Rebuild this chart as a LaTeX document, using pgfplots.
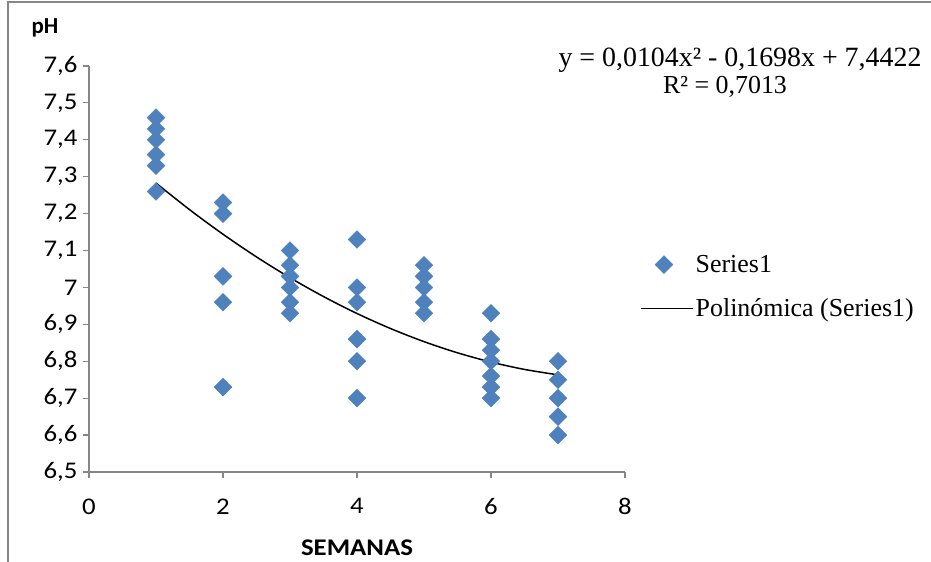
\documentclass[border=0pt]{standalone}
\usepackage{pgfplots}
\pgfplotsset{compat=1.18}
\usepackage{fontspec}
\setmainfont{Liberation Serif}
\newfontfamily\calibri{Carlito}
\newfontfamily\calibriw{Carlito}[FakeStretch=1.12]
\definecolor{xlblue}{HTML}{4F81BD}
\definecolor{axgray}{HTML}{868686}
\pgfplotsset{
  mylegmark/.style={legend image code/.code={\draw[mark repeat=2,mark phase=2,##1] plot coordinates {(0bp,0bp) (23bp,0bp) (46bp,0bp)};}},
  myleglinee/.style={legend image code/.code={\draw[##1] (0bp,0bp) -- (52bp,0bp);}},
}
\begin{document}
\begin{tikzpicture}[x=1bp,y=1bp]
\useasboundingbox (-89,-90) rectangle (842,472);
\draw[axgray,line width=1.2bp] (-81,-95) -- (-81,470) -- (850,470);
\begin{axis}[
  at={(0,0)}, anchor=south west,
  scale only axis, width=536bp, height=406bp,
  xmin=0, xmax=8, ymin=6.5, ymax=7.6,
  xtick={0,2,4,6,8},
  ytick={6.5,6.6,6.7,6.8,6.9,7.0,7.1,7.2,7.3,7.4,7.5,7.6},
  axis x line*=bottom, axis y line*=left,
  axis line style={axgray, line width=1.2bp, -},
  tick style={axgray, line width=1.2bp},
  tick align=outside, major tick length=6bp,
  /pgf/number format/assume math mode=true,
  /pgf/number format/use comma,
  /pgf/number format/fixed,
  /pgf/number format/precision=1,
  every tick label/.append style={font=\calibriw\fontsize{24}{24}\selectfont},
  tick label style={black},
  yticklabel style={xshift=-2bp},
  xticklabel style={yshift=-17bp},
  legend style={at={(1.028,0.456)}, anchor=west, draw=none, fill=none,
    inner sep=0pt, font=\fontsize{26}{26}\selectfont, row sep=21bp,
    /tikz/every even column/.append style={column sep=2bp}},
  legend cell align=left,
  clip=false,
]
\addplot[only marks, mark=square*, mark size=6.3bp, color=xlblue,
  mark options={rotate=45, fill=xlblue, draw=xlblue}, mylegmark]
coordinates {
(1,7.46) (1,7.43) (1,7.40) (1,7.36) (1,7.33) (1,7.26)
(2,7.23) (2,7.20) (2,7.03) (2,6.96) (2,6.73)
(3,7.10) (3,7.06) (3,7.03) (3,7.00) (3,6.96) (3,6.93)
(4,7.13) (4,7.00) (4,6.96) (4,6.86) (4,6.80) (4,6.70)
(5,7.06) (5,7.03) (5,7.00) (5,6.96) (5,6.93)
(6,6.93) (6,6.86) (6,6.83) (6,6.80) (6,6.76) (6,6.73) (6,6.70)
(7,6.80) (7,6.75) (7,6.70) (7,6.65) (7,6.60)
};
\addlegendentry{Series1}
\addplot[black, line width=1.5bp, smooth, no marks, myleglinee]
coordinates {
(1,7.2828) (1.5,7.2109) (2,7.1442) (2.5,7.0827) (3,7.0264) (3.5,6.9753)
(4,6.9294) (4.5,6.8887) (5,6.8532) (5.5,6.8229) (6,6.7978) (6.5,6.7779) (7,6.7632)
};
\addlegendentry{Polinómica (Series1)}
\end{axis}
\node[font=\calibri\bfseries\fontsize{23}{23}\selectfont] at (-44,444) {pH};
\node[font=\calibriw\bfseries\fontsize{24}{24}\selectfont] at (268,-76) {SEMANAS};
\node[font=\fontsize{28}{28}\selectfont, anchor=base] at (651,405) {y = 0,0104x² - 0,1698x + 7,4422};
\node[font=\fontsize{26}{26}\selectfont, anchor=base] at (636,378) {R² = 0,7013};
\end{tikzpicture}
\end{document}
